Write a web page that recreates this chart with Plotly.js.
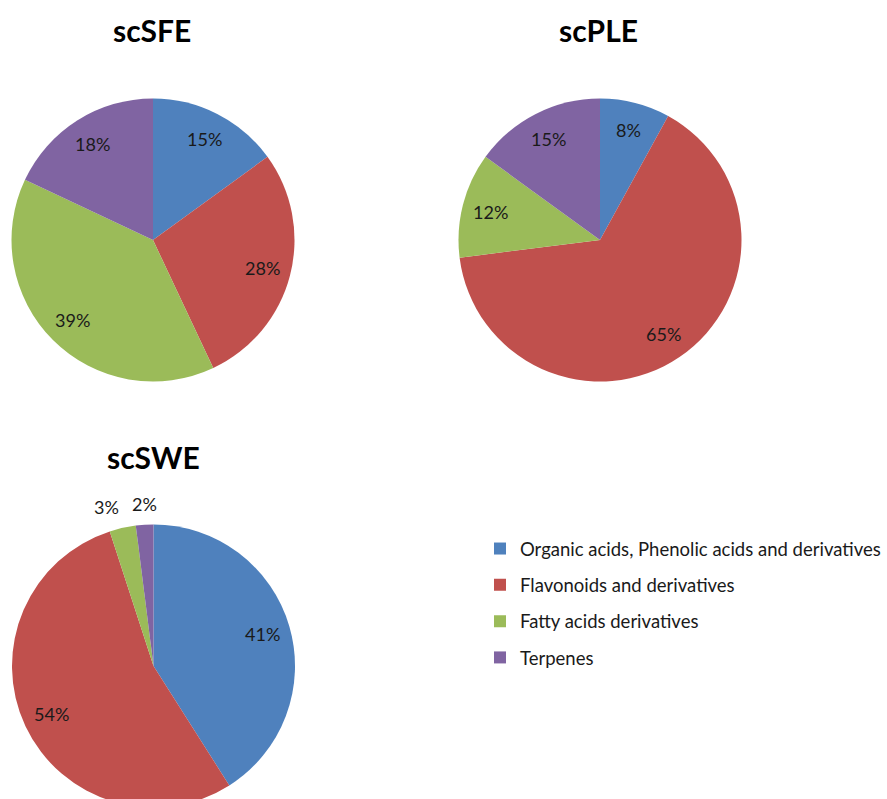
<!DOCTYPE html>
<html>
<head>
<meta charset="utf-8">
<script src="https://cdn.plot.ly/plotly-3.0.1.min.js"></script>
<style>
html, body { margin:0; padding:0; background:#fff; overflow:hidden; }
#chart { width:887px; height:812px; }
</style>
</head>
<body>
<div id="chart"></div>
<script>
const categories = ["Organic acids, Phenolic acids and derivatives", "Flavonoids and derivatives", "Fatty acids derivatives", "Terpenes"];
const colors = ["#4F81BD", "#C0504D", "#9BBB59", "#8064A2"];
const scSFE = [15, 28, 39, 18];
const scPLE = [8, 65, 12, 15];
const scSWE = [41, 54, 3, 2];
const titles = ["scSFE", "scPLE", "scSWE"];

const W = 887, H = 812;
const R = 141.5;
const FONT = "Lato, 'Open Sans', sans-serif";
const centers = [[153, 240], [600, 240], [153.5, 666]];
const series = [scSFE, scPLE, scSWE];

function dom(cx, cy) {
  return { x: [(cx - R) / W, (cx + R) / W], y: [1 - (cy + R) / H, 1 - (cy - R) / H] };
}

const data = series.map((vals, i) => ({
  type: "pie",
  name: titles[i],
  labels: categories,
  values: vals,
  sort: false,
  direction: "clockwise",
  rotation: 0,
  domain: dom(centers[i][0], centers[i][1]),
  marker: { colors: colors, line: { width: 0 } },
  textinfo: "none",
  showlegend: false,
  hoverinfo: "label+percent"
}));

// one legend per category, spaced like the original legend
const legendNames = ["legend", "legend2", "legend3", "legend4"];
const legendLayouts = {};
categories.forEach((cat, k) => {
  data.push({
    type: "pie",
    labels: [cat],
    values: [1],
    sort: false,
    domain: { x: [0.999, 0.9991], y: [0.999, 0.9991] },
    marker: { colors: [colors[k]], line: { width: 0 } },
    textinfo: "none",
    hoverinfo: "skip",
    showlegend: true,
    legend: legendNames[k]
  });
  legendLayouts[legendNames[k]] = {
    x: 480 / W, xanchor: "left",
    y: 1 - (530 + 36.3 * k) / H, yanchor: "top",
    font: { family: FONT, size: 18.5, color: "#1a1a1a" },
    bgcolor: "rgba(0,0,0,0)"
  };
});

// data labels placed at each slice's mid-angle (Excel "best fit" style)
const labelAnnots = [];
series.forEach((vals, i) => {
  const total = vals.reduce((a, b) => a + b, 0);
  let cum = 0;
  vals.forEach(v => {
    const mid = (cum + v / 2) / total * 2 * Math.PI;
    cum += v;
    const pct = v / total * 100;
    const outside = pct < 5;
    const r = outside ? R + 8 : 0.8 * R;
    const s = Math.sin(mid), c = Math.cos(mid);
    const px = centers[i][0] + r * s;
    const py = centers[i][1] - r * c;
    labelAnnots.push({
      text: Math.round(pct) + "%",
      x: px / W, y: 1 - py / H, xref: "paper", yref: "paper",
      xanchor: outside ? (s < -0.1 ? "right" : (s > 0.1 ? "left" : "center")) : "center",
      yanchor: outside ? (c > 0 ? "bottom" : "top") : "middle",
      showarrow: false,
      font: { family: FONT, size: 18, color: "#1a1a1a" }
    });
  });
});

const titlePos = [[152, 30], [598, 30], [153, 457]];
const titleAnnots = titles.map((t, i) => ({
  text: "<b>" + t + "</b>",
  x: titlePos[i][0] / W, y: 1 - titlePos[i][1] / H, xref: "paper", yref: "paper",
  xanchor: "center", yanchor: "middle", showarrow: false,
  font: { family: FONT, size: 30, color: "#000" }
}));

const layout = Object.assign({
  width: W, height: H,
  margin: { l: 0, r: 0, t: 0, b: 0 },
  paper_bgcolor: "#fff",
  font: { family: FONT, color: "#1a1a1a" },
  showlegend: true,
  annotations: titleAnnots.concat(labelAnnots)
}, legendLayouts);

Plotly.newPlot("chart", data, layout, { displayModeBar: false, staticPlot: true });
</script>
</body>
</html>
